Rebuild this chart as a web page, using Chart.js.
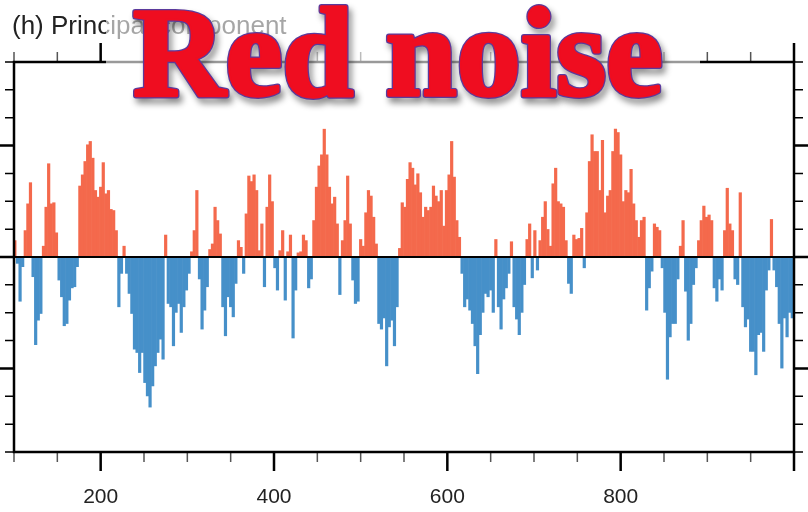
<!DOCTYPE html>
<html lang="en">
<head>
    <meta charset="UTF-8">
    <title>Red noise - Principal component</title>
    <script src="https://cdn.jsdelivr.net/npm/chart.js"></script>
    <style>
        body {
            margin: 0;
            background: #ffffff;
        }
    </style>
</head>
<body>

<canvas id="pcChart" width="808" height="512"></canvas>

<script>
    // time axis: one bar every 3 steps, starting at 101
    const xStart = 101;
    const xStep = 3;
    const xRange = [100, 1000];
    const yRange = [-1.75, 1.75];
    const xLabels = [200, 400, 600, 800];
    const titleText = '(h) Principal component';
    const bannerText = 'Red noise';

    // values (101 .. 392)
    const seg1 = [
        0.15, -0.06, -0.40, -0.09, 0.24, 0.48, 0.67, -0.18, -0.79, -0.57,
        -0.51, 0.10, 0.45, 0.84, 0.48, 0.49, 0.22, -0.21, -0.36, -0.62,
        -0.60, -0.39, -0.28, -0.27, -0.09, 0.64, 0.74, 0.86, 1.01, 1.04,
        0.89, 0.60, 0.54, 0.63, 0.85, 0.57, 0.60, 0.43, 0.42, 0.24,
        -0.45, -0.15, 0.10, -0.15, -0.33, -0.51, -0.83, -0.86, -1.04, -0.86,
        -1.13, -1.25, -1.35, -1.16, -0.98, -0.86, -0.74, -0.92, 0.20, -0.42,
        -0.45, -0.80, -0.50, -0.42, -0.68, -0.45, -0.30, -0.15, 0.05, 0.24,
        0.60, -0.20, -0.65, -0.48, -0.27, 0.07, 0.12, 0.45, 0.33, 0.21,
        -0.45, -0.71, -0.36, -0.45, -0.54, -0.24, 0.15, 0.09, -0.15, 0.39,
        0.73, 0.68, 0.74, 0.60, 0.06, 0.30, -0.27, 0.45
    ];
    // 395 .. 692
    const seg2 = [
        0.74, 0.50, -0.10, -0.30, 0.06, 0.24, -0.39, 0.05, 0.20, -0.73,
        -0.30, 0.04, 0.05, 0.20, 0.15, -0.28, -0.20, 0.33, 0.63, 0.82,
        0.92, 1.15, 0.92, 0.63, 0.48, 0.54, 0.30, -0.34, 0.15, 0.33,
        0.73, 0.30, -0.21, -0.42, -0.40, 0.16, 0.10, 0.40, 0.60, 0.55,
        0.36, 0.12, -0.60, -0.65, -0.55, -0.98, -0.63, -0.57, -0.80, -0.45,
        0.08, 0.49, 0.45, 0.70, 0.85, 0.80, 0.65, 0.75, 0.58, 0.36,
        0.45, 0.42, 0.45, 0.64, 0.55, 0.50, 0.60, 0.28, 0.60, 0.74,
        1.04, 0.72, 0.33, 0.18, -0.15, -0.45, -0.38, -0.48, -0.60, -0.80,
        -1.05, -0.70, -0.50, -0.33, -0.36, -0.30, -0.50, 0.16, -0.45, -0.65,
        -0.38, -0.28, -0.15, 0.14, -0.45, -0.56, -0.70, -0.50, -0.25, 0.16
    ];
    // 695 .. 998
    const seg3 = [
        0.30, -0.19, 0.24, -0.12, 0.15, 0.36, 0.50, 0.25, 0.10, 0.66,
        0.80, 0.50, 0.48, 0.45, 0.15, -0.24, -0.33, 0.20, 0.16, 0.17,
        0.26, -0.10, 0.40, 0.86, 1.10, 0.95, 0.95, 0.60, 1.05, 0.40,
        0.55, 0.60, 0.95, 1.15, 1.12, 0.92, 0.50, 0.60, 0.58, 0.79,
        0.48, 0.33, 0.18, 0.33, 0.36, -0.48, -0.28, -0.13, 0.30, 0.27,
        0.24, -0.10, -0.50, -1.10, -0.72, -0.60, -0.60, -0.20, 0.10, 0.33,
        -0.31, -0.75, -0.60, -0.25, -0.10, 0.15, 0.33, 0.46, 0.36, 0.38,
        0.33, -0.28, -0.40, -0.20, -0.30, 0.24, 0.62, 0.30, 0.24, -0.20,
        -0.25, 0.58, -0.45, -0.63, -0.56, -0.85, -0.85, -1.06, -0.70, -0.68,
        -0.85, -0.30, -0.12, 0.34, -0.12, -0.27, -0.60, -1.00, -0.55, -0.72,
        -0.50, -0.55
    ];

    const values = seg1.concat(seg2, seg3);
    const points = values.map((v, i) => ({x: xStart + i * xStep, y: v}));

    const POS = '#f4694c';
    const NEG = '#4690c9';

    // frame, ticks, labels, title and banner
    const framePlugin = {
        id: 'framePlugin',
        afterDraw(chart) {
            const ctx = chart.ctx;
            const xs = chart.scales.x;
            const ys = chart.scales.y;
            const a = chart.chartArea;

            ctx.save();
            // zero line
            const y0 = ys.getPixelForValue(0);
            ctx.strokeStyle = '#000';
            ctx.lineWidth = 2;
            ctx.beginPath();
            ctx.moveTo(a.left, y0);
            ctx.lineTo(a.right, y0);
            ctx.stroke();

            // x ticks top and bottom
            for (let v = xRange[0]; v <= xRange[1]; v += 50) {
                const px = xs.getPixelForValue(v);
                const major = v % 200 === 0;
                const len = major ? 19 : 10;
                ctx.strokeStyle = major ? '#000' : '#555';
                ctx.lineWidth = major ? 2.5 : 1.5;
                ctx.beginPath();
                ctx.moveTo(px, a.bottom);
                ctx.lineTo(px, a.bottom + len);
                ctx.moveTo(px, a.top);
                ctx.lineTo(px, a.top - len);
                ctx.stroke();
            }
            // y ticks left and right
            for (let v = yRange[0]; v <= yRange[1] + 1e-9; v += 0.25) {
                const py = ys.getPixelForValue(v);
                const major = Math.abs(v - Math.round(v)) < 1e-6;
                const len = major ? 14 : 9;
                ctx.strokeStyle = '#000';
                ctx.lineWidth = major ? 2.5 : 1.5;
                ctx.beginPath();
                ctx.moveTo(a.left, py);
                ctx.lineTo(a.left - len, py);
                ctx.moveTo(a.right, py);
                ctx.lineTo(a.right + len, py);
                ctx.stroke();
            }

            // frame
            ctx.strokeStyle = '#000';
            ctx.lineWidth = 2.5;
            ctx.strokeRect(a.left, a.top, a.right - a.left, a.bottom - a.top);

            // x labels
            ctx.fillStyle = '#222';
            ctx.font = '21px "Liberation Sans", Arial, sans-serif';
            ctx.textAlign = 'center';
            ctx.textBaseline = 'alphabetic';
            xLabels.forEach(v => ctx.fillText(String(v), xs.getPixelForValue(v), 503));

            // title
            ctx.textAlign = 'left';
            ctx.font = '26px "Liberation Sans", Arial, sans-serif';
            ctx.fillText(titleText, 12, 34);

            // pale box behind the banner
            ctx.fillStyle = 'rgba(255,255,255,0.6)';
            ctx.fillRect(106, 0, 594, 108);

            // banner: thick purple edge + shadow, then red body
            ctx.font = 'bold 128px "Liberation Serif", "Times New Roman", serif';
            ctx.textAlign = 'center';
            ctx.lineJoin = 'round';
            ctx.shadowColor = 'rgba(0,0,0,0.45)';
            ctx.shadowBlur = 6;
            ctx.shadowOffsetX = 3;
            ctx.shadowOffsetY = 5;
            ctx.strokeStyle = '#5b3a9c';
            ctx.lineWidth = 6;
            ctx.strokeText(bannerText, 398, 95);
            ctx.shadowColor = 'transparent';
            ctx.fillStyle = '#ef0d20';
            ctx.strokeStyle = '#ef0d20';
            ctx.lineWidth = 3.5;
            ctx.strokeText(bannerText, 398, 95);
            ctx.fillText(bannerText, 398, 95);
            ctx.restore();
        }
    };

    new Chart(document.getElementById('pcChart').getContext('2d'), {
        type: 'bar',
        data: {
            datasets: [{
                data: points,
                backgroundColor: c => (c.raw && c.raw.y >= 0 ? POS : NEG),
                borderWidth: 0,
                barThickness: 3.2,
                inflateAmount: 0
            }]
        },
        options: {
            responsive: false,
            animation: false,
            layout: {padding: {left: 14, right: 14, top: 62, bottom: 60}},
            plugins: {legend: {display: false}, tooltip: {enabled: false}},
            scales: {
                x: {type: 'linear', min: xRange[0], max: xRange[1], offset: false, display: false},
                y: {min: yRange[0], max: yRange[1], display: false}
            }
        },
        plugins: [framePlugin]
    });
</script>

</body>
</html>
